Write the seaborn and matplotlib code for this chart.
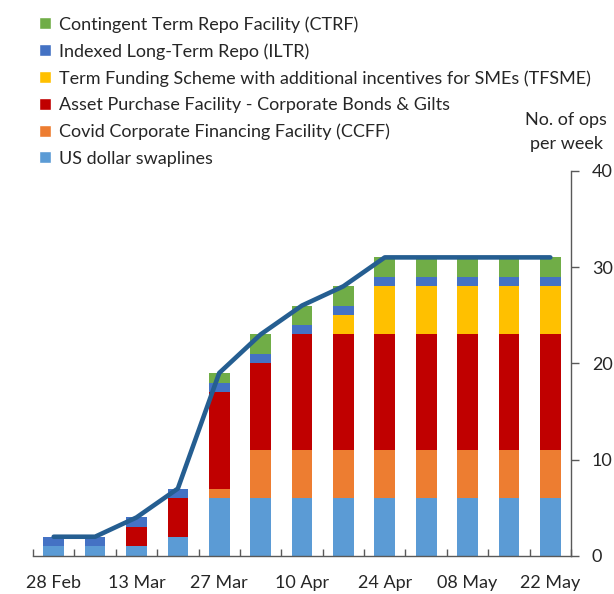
import numpy as np
import pandas as pd
import matplotlib
matplotlib.use("Agg")
import matplotlib.pyplot as plt
import seaborn as sns
from matplotlib.patches import Patch
from matplotlib.ticker import FixedLocator, NullFormatter

# weekly data, 28 Feb to 22 May
weeks = ["28 Feb", "06 Mar", "13 Mar", "20 Mar", "27 Mar", "03 Apr", "10 Apr",
         "17 Apr", "24 Apr", "01 May", "08 May", "15 May", "22 May"]
swaplines = [1, 1, 1, 2, 6, 6, 6, 6, 6, 6, 6, 6, 6]
ccff = [0, 0, 0, 0, 1, 5, 5, 5, 5, 5, 5, 5, 5]
apf = [0, 0, 2, 4, 10, 9, 12, 12, 12, 12, 12, 12, 12]
tfsme = [0, 0, 0, 0, 0, 0, 0, 2, 5, 5, 5, 5, 5]
iltr = [1, 1, 1, 1, 1, 1, 1, 1, 1, 1, 1, 1, 1]
ctrf = [0, 0, 0, 0, 1, 2, 2, 2, 2, 2, 2, 2, 2]
ops_per_week = [2, 2, 4, 7, 19, 23, 26, 28, 31, 31, 31, 31, 31]

series = [
    ("US dollar swaplines", swaplines, "#5B9BD5"),
    ("Covid Corporate Financing Facility (CCFF)", ccff, "#ED7D31"),
    ("Asset Purchase Facility - Corporate Bonds & Gilts", apf, "#C00000"),
    ("Term Funding Scheme with additional incentives for SMEs (TFSME)", tfsme, "#FFC000"),
    ("Indexed Long-Term Repo (ILTR)", iltr, "#4472C4"),
    ("Contingent Term Repo Facility (CTRF)", ctrf, "#70AD47"),
]

sns.set_style("white")
plt.rcParams["font.family"] = ["Lato", "DejaVu Sans"]
fs = 13

fig = plt.figure(figsize=(6.14, 5.94), dpi=100)
ax = fig.add_axes([33 / 614, 38 / 594, 538 / 614, 385.3 / 594])

# stacked bars: draw cumulative totals from top layer down
cum = np.cumsum([s[1] for s in series], axis=0)
for i in range(len(series) - 1, -1, -1):
    df = pd.DataFrame({"week": weeks, "value": cum[i]})
    sns.barplot(data=df, x="week", y="value", color=series[i][2], width=0.5,
                saturation=1, order=weeks, ax=ax, linewidth=0)

sns.lineplot(x=np.arange(len(weeks)), y=ops_per_week, color="#255E91",
             linewidth=3.3, ax=ax, solid_capstyle="round")

ax.set_xlim(-0.5, len(weeks) - 0.5)
ax.set_ylim(0, 40)
ax.set_xlabel("")
ax.set_ylabel("")

# x ticks: labels every second week, tick marks between categories
ax.set_xticks(np.arange(0, len(weeks), 2))
ax.set_xticklabels(weeks[::2])
ax.tick_params(axis="x", which="major", length=0, pad=14, labelsize=fs)
ax.xaxis.set_minor_locator(FixedLocator(np.arange(-0.5, len(weeks), 1)))
ax.xaxis.set_minor_formatter(NullFormatter())
ax.tick_params(axis="x", which="minor", direction="in", length=5, width=1,
               color="#595959", bottom=True)

ax.yaxis.tick_right()
ax.set_yticks([0, 10, 20, 30, 40])
ax.tick_params(axis="y", direction="out", length=6, width=1, color="#595959",
               pad=9, labelsize=fs)

for side in ["top", "left"]:
    ax.spines[side].set_visible(False)
for side in ["bottom", "right"]:
    ax.spines[side].set_color("#595959")
    ax.spines[side].set_linewidth(1)

fig.text(566 / 614, 1 - 132 / 594, "No. of ops\nper week", ha="center",
         va="center", fontsize=fs, linespacing=1.65)

handles = [Patch(facecolor=c, label=l) for l, _, c in reversed(series)]
fig.legend(handles=handles, loc="upper left", bbox_to_anchor=(39 / 614, 1 - 16 / 594),
           frameon=False, handlelength=0.65, handleheight=0.65, handletextpad=0.45,
           labelspacing=0.58, borderaxespad=0, borderpad=0, fontsize=fs)

fig.savefig("out.png", dpi=100)
